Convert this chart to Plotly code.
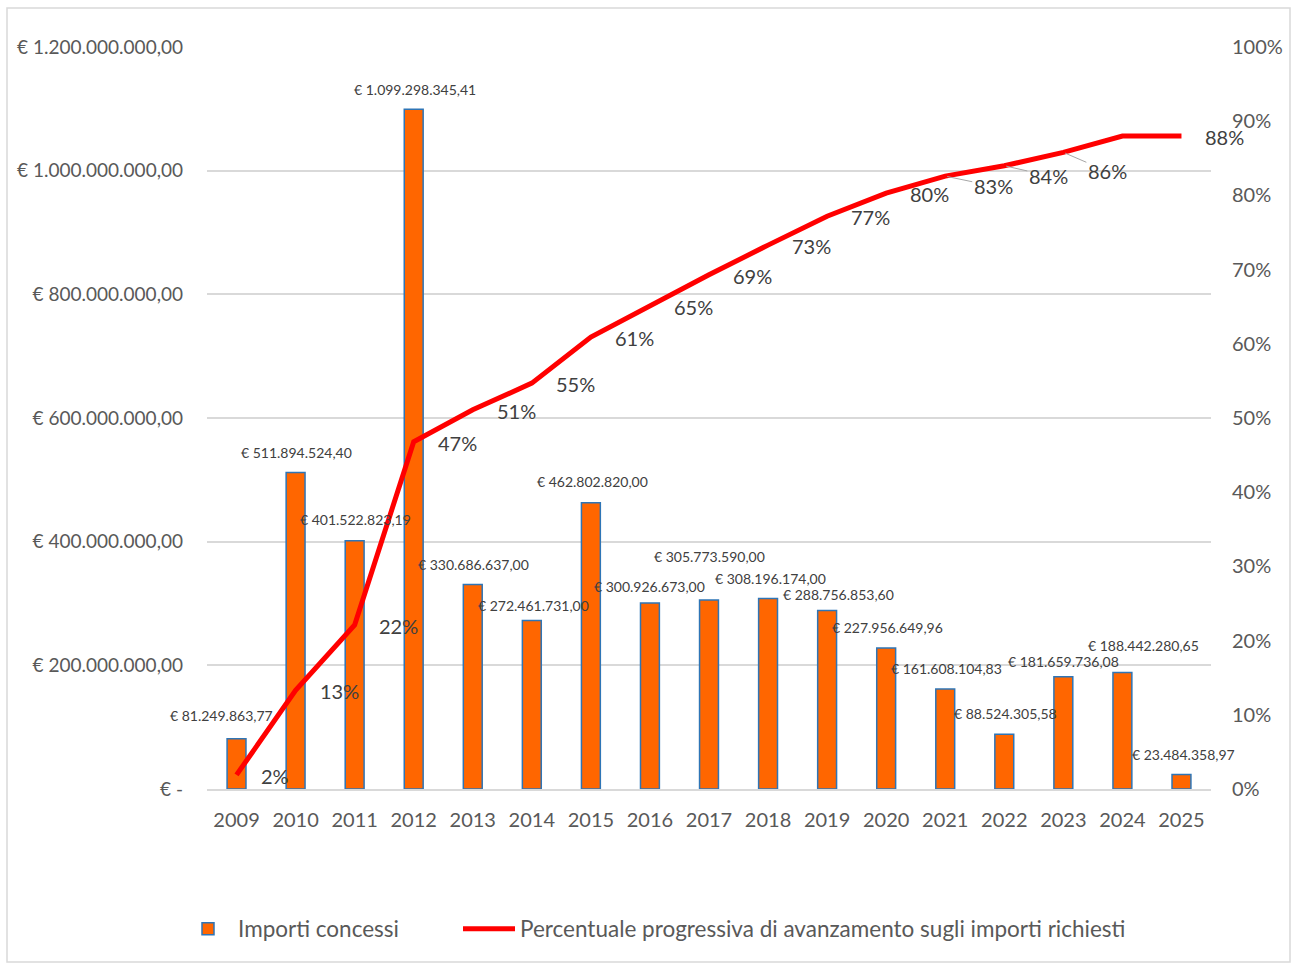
import plotly.graph_objects as go

# ---- data ----
years = list(range(2009, 2026))
importi_concessi = [81249863.77, 511894524.40, 401522823.19, 1099298345.41,
                    330686637.00, 272461731.00, 462802820.00, 300926673.00,
                    305773590.00, 308196174.00, 288756853.60, 227956649.96,
                    161608104.83, 88524305.58, 181659736.08, 188442280.65,
                    23484358.97]
percentuale = [0.019, 0.133, 0.221, 0.468, 0.511, 0.547, 0.609, 0.651, 0.693,
               0.733, 0.772, 0.803, 0.826, 0.840, 0.858, 0.880, 0.880]
left_tickvals = [0, 2e8, 4e8, 6e8, 8e8, 1e9, 1.2e9]
right_tickvals = [i / 10 for i in range(11)]

# ---- label placement (pixels) ----
bar_label_dx = [-15, 1, 1, 1, 1, 2, 2, 0, 0, 2, 11, 1, 1, 1, 0, 21, 2]
bar_label_dy = [23, 20, 21, 20, 20, 15, 21, 16, 43, 20, 16, 21, 21, 21, 15, 27, 20]
line_label_hidden = {2024}
line_label_leader = {2021: (48, 10), 2022: (44, 10), 2023: (44, 19)}

FONT = "Lato"
TXT = "#595959"
LBL = "#404040"
GRID = "#d9d9d9"


def eur(v):
    if v == 0:
        return "€ -"
    s = f"{v:,.2f}".replace(",", "X").replace(".", ",").replace("X", ".")
    return "€ " + s


fig = go.Figure()
fig.add_trace(go.Bar(
    x=years, y=importi_concessi, name="Importi concessi",
    marker=dict(color="#FF6600", line=dict(color="#2E75B6", width=1.5)),
    width=0.32, yaxis="y", legend="legend",
))
fig.add_trace(go.Scatter(
    x=years, y=percentuale,
    name="Percentuale progressiva di avanzamento sugli importi richiesti",
    mode="lines", line=dict(color="#FF0000", width=5), yaxis="y2",
    cliponaxis=False, legend="legend2",
))

annotations = []
for yr, v, dx, dy in zip(years, importi_concessi, bar_label_dx, bar_label_dy):
    annotations.append(dict(
        x=yr, y=v, xref="x", yref="y", text=eur(v), showarrow=False,
        xanchor="center", yanchor="middle", xshift=dx, yshift=dy,
        font=dict(family=FONT, size=14, color=LBL)))

for yr, p in zip(years, percentuale):
    if yr in line_label_hidden:
        continue
    txt = f"{p:.0%}"
    if yr in line_label_leader:
        ax, ay = line_label_leader[yr]
        annotations.append(dict(
            x=yr, y=p, xref="x", yref="y2", text=txt, showarrow=True,
            ax=ax, ay=ay, arrowhead=0, arrowwidth=1, arrowcolor="#a6a6a6",
            standoff=2, font=dict(family=FONT, size=20, color=LBL)))
    else:
        annotations.append(dict(
            x=yr, y=p, xref="x", yref="y2", text=txt, showarrow=False,
            xanchor="left", yanchor="middle", xshift=22, yshift=-1,
            font=dict(family=FONT, size=20, color=LBL)))

W, H = 1295, 965
L, R, T, B = 207, 84, 47, 176
pw, ph = W - L - R, H - T - B


def px(x):
    return (x - L) / pw


def py(y):
    return (H - B - y) / ph


fig.update_layout(
    width=W, height=H,
    margin=dict(l=L, r=R, t=T, b=B, pad=0),
    paper_bgcolor="white", plot_bgcolor="white",
    font=dict(family=FONT, size=20, color=TXT),
    showlegend=True,
    legend=dict(orientation="h", x=px(178), xanchor="left", y=py(929), yanchor="middle",
                font=dict(family=FONT, size=22.5, color=TXT), itemwidth=50,
                bgcolor="rgba(0,0,0,0)"),
    legend2=dict(orientation="h", x=px(458), xanchor="left", y=py(929), yanchor="middle",
                 font=dict(family=FONT, size=22.5, color=TXT), itemwidth=52,
                 bgcolor="rgba(0,0,0,0)"),
    xaxis=dict(range=[2008.5, 2025.5], tickvals=years, showgrid=False,
               showline=True, linecolor=GRID, linewidth=1.5, ticks="",
               ticklabelstandoff=12, zeroline=False,
               tickfont=dict(family=FONT, size=20, color=TXT)),
    yaxis=dict(range=[0, 1.2e9], tickvals=left_tickvals,
               ticktext=[eur(v) for v in left_tickvals],
               showgrid=True, gridcolor=GRID, gridwidth=1.5, zeroline=False,
               showline=False, ticks="", ticklabelstandoff=23,
               tickfont=dict(family=FONT, size=19, color=TXT)),
    yaxis2=dict(range=[0, 1], tickvals=right_tickvals, tickformat=".0%",
                overlaying="y", side="right", showgrid=False, zeroline=False,
                showline=False, ticks="", ticklabelstandoff=20,
                tickfont=dict(family=FONT, size=20, color=TXT)),
    annotations=annotations,
    shapes=[dict(type="rect", xref="paper", yref="paper",
                 x0=px(7), x1=px(1290), y0=py(962), y1=py(8),
                 line=dict(color=GRID, width=1.5), layer="below")],
)

fig.write_html("out.html", config={"displayModeBar": False},
               post_script="document.body.style.margin='0';")
